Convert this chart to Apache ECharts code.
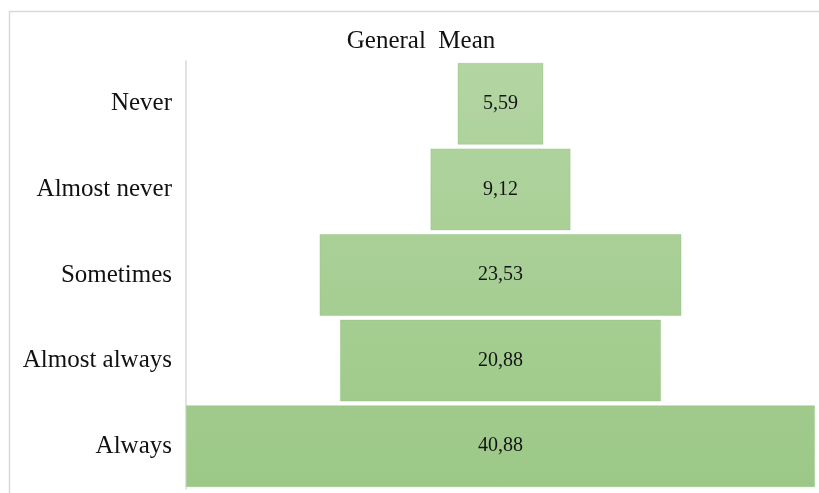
<!DOCTYPE html>
<html>
<head>
<meta charset="utf-8">
<script src="https://cdn.jsdelivr.net/npm/echarts@6/dist/echarts.min.js"></script>
<style>
  html, body { margin: 0; padding: 0; background: #fff; }
  #chart { width: 819px; height: 493px; }
</style>
</head>
<body>
<div id="chart"></div>
<script>
// 数据
const categories = ['Never', 'Almost never', 'Sometimes', 'Almost always', 'Always'];
const values = [5.59, 9.12, 23.53, 20.88, 40.88];

const maxValue = Math.max(...values);
// 透明的占位条，让每根柱子居中
const offsets = values.map(v => (maxValue - v) / 2);

const chart = echarts.init(document.getElementById('chart'));

const serif = '"Liberation Serif", "DejaVu Serif", serif';

const option = {
  animation: false,
  backgroundColor: '#fff',
  title: {
    text: 'General  Mean',
    left: 416,
    top: 24,
    textAlign: 'center',
    textStyle: { fontFamily: serif, fontSize: 25, fontWeight: 'normal', color: '#111' }
  },
  graphic: [{
    type: 'rect',
    left: 7,
    top: 9,
    shape: { width: 830, height: 500 },
    style: { fill: 'none', stroke: '#d9d9d9', lineWidth: 1.5 },
    silent: true
  }],
  grid: { left: 186, right: 4, top: 61, bottom: 4 },
  xAxis: {
    type: 'value',
    min: 0,
    max: maxValue,
    show: false
  },
  yAxis: {
    type: 'category',
    inverse: true,
    data: categories,
    axisLine: { show: true, lineStyle: { color: '#d9d9d9', width: 1.5 } },
    axisTick: { show: false },
    axisLabel: { fontFamily: serif, fontSize: 25, color: '#111', margin: 14 }
  },
  series: [
    {
      type: 'bar',
      stack: 'total',
      data: offsets,
      barWidth: 82,
      itemStyle: { color: 'transparent' },
      silent: true
    },
    {
      type: 'bar',
      stack: 'total',
      data: values,
      barWidth: 82,
      itemStyle: {
        color: new echarts.graphic.LinearGradient(0, 63, 0, 487, [
          { offset: 0, color: '#b3d5a2' },
          { offset: 1, color: '#9cc887' }
        ], true),
        borderColor: 'rgba(140,190,120,0.35)',
        borderWidth: 1
      },
      label: {
        show: true,
        position: 'inside',
        fontFamily: serif,
        fontSize: 20,
        color: '#141414',
        formatter: p => p.value.toFixed(2).replace('.', ',')
      }
    }
  ]
};

chart.setOption(option);
</script>
</body>
</html>
